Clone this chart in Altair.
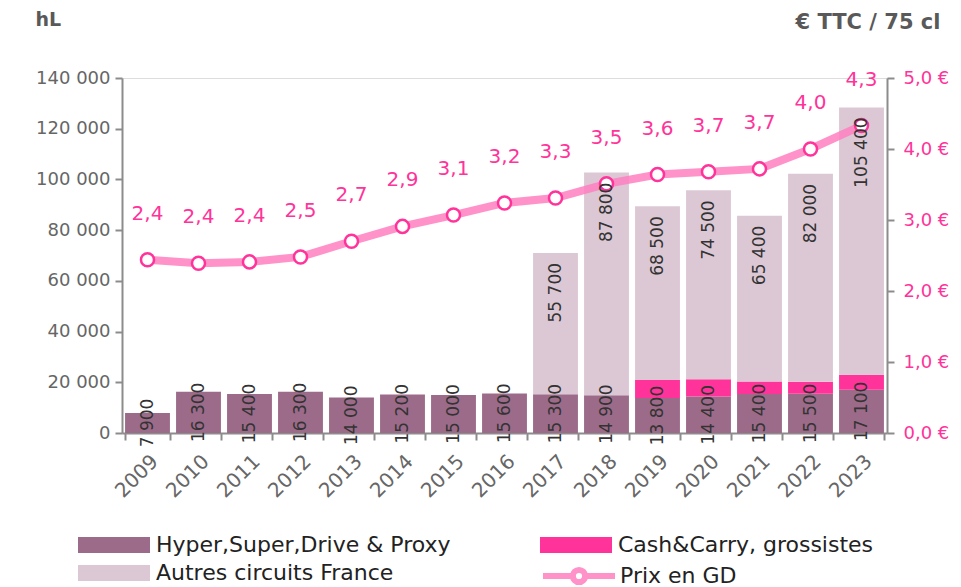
import altair as alt
import pandas as pd

years = [str(y) for y in range(2009, 2024)]
hyper = [7900, 16300, 15400, 16300, 14000, 15200, 15000, 15600, 15300, 14900, 13800, 14400, 15400, 15500, 17100]
cash = [0, 0, 0, 0, 0, 0, 0, 0, 0, 0, 7100, 6800, 4900, 4700, 5900]
autres = [0, 0, 0, 0, 0, 0, 0, 0, 55700, 87800, 68500, 74500, 65400, 82000, 105400]
price = [2.44, 2.39, 2.41, 2.48, 2.70, 2.91, 3.07, 3.24, 3.31, 3.51, 3.64, 3.68, 3.72, 4.00, 4.33]

series_names = ["Hyper,Super,Drive & Proxy", "Cash&Carry, grossistes", "Autres circuits France"]
series_colors = ["#9d6b8a", "#ff3399", "#dcc8d4"]
line_name = "Prix en GD"
FONT = "DejaVu Sans"


def fr_int(n):
    return f"{n:,}".replace(",", " ")


def fr_dec(v):
    return f"{v:.1f}".replace(".", ",")


rows = []
for i, yr in enumerate(years):
    for k, (name, vals) in enumerate(zip(series_names[:2], [hyper, cash])):
        rows.append({"year": yr, "series": name, "value": vals[i], "idx": k})
long_df = pd.DataFrame(rows)

wide = pd.DataFrame({
    "year": years,
    "hyper": hyper,
    "cash": cash,
    "autres": autres,
    "price": price,
})
wide["hmid"] = wide["hyper"] / 2
wide["base"] = wide["hyper"] + wide["cash"]
wide["total"] = wide["base"] + wide["autres"]
wide["hlabel"] = [fr_int(v) for v in hyper]
wide["alabel"] = [fr_int(v) for v in autres]
wide["plabel"] = [fr_dec(v) for v in price]
wide["aname"] = series_names[2]
wide["lg"] = line_name

x_enc = alt.X(
    "year:N",
    sort=years,
    scale=alt.Scale(paddingInner=0.12, paddingOuter=0.06),
    axis=alt.Axis(
        title=None,
        labelAngle=-45,
        labelFontSize=20,
        labelColor="#666666",
        labelPadding=11,
        tickBand="extent",
        tickSize=7,
        tickWidth=2,
        tickColor="#8c8c8c",
        domainColor="#8c8c8c",
        domainWidth=2,
        grid=False,
    ),
)

left_axis = alt.Axis(
    title="hL",
    titleAngle=0,
    titleX=-87,
    titleY=-53,
    titleAlign="left",
    titleBaseline="alphabetic",
    titleFontSize=19,
    titleFontWeight="bold",
    titleColor="#595959",
    values=[0, 20000, 40000, 60000, 80000, 100000, 120000, 140000],
    labelExpr="replace(format(datum.value, ','), regexp(',', 'g'), ' ')",
    labelFontSize=18,
    labelColor="#666666",
    labelPadding=5,
    tickSize=7,
    tickWidth=2,
    tickColor="#8c8c8c",
    domainColor="#8c8c8c",
    domainWidth=2,
    grid=False,
    orient="left",
)
left_scale = alt.Scale(domain=[0, 140000], nice=False)

right_axis = alt.Axis(
    title="€ TTC / 75 cl",
    titleAngle=0,
    titleX=53,
    titleY=-50,
    titleAlign="right",
    titleBaseline="alphabetic",
    titleFontSize=21,
    titleFontWeight="bold",
    titleColor="#595959",
    values=[0, 1, 2, 3, 4, 5],
    labelExpr="replace(format(datum.value, '.1f'), '.', ',') + ' €'",
    labelFontSize=18,
    labelColor="#ff3399",
    labelPadding=9,
    tickSize=7,
    tickWidth=2,
    tickColor="#8c8c8c",
    domainColor="#8c8c8c",
    domainWidth=2,
    grid=False,
    orient="right",
)
right_scale = alt.Scale(domain=[0, 5], nice=False)

RECT = "M-1,-0.22H1V0.22H-1Z"


def legend_props(x, y, **kw):
    return alt.Legend(
        title=None,
        orient="none",
        legendX=x,
        legendY=y,
        labelFontSize=22,
        labelColor="#222222",
        labelLimit=500,
        symbolSize=5184,
        **kw,
    )


bars_main = alt.Chart(long_df).mark_bar().encode(
    x=x_enc,
    y=alt.Y("value:Q", stack="zero", scale=left_scale, axis=left_axis),
    fill=alt.Fill(
        "series:N",
        scale=alt.Scale(domain=series_names[:2], range=series_colors[:2]),
        legend=legend_props(
            -44, 431,
            columns=2,
            direction="horizontal",
            columnPadding=89,
            symbolType=RECT,
            symbolStrokeWidth=0,
            labelOffset=6,
        ),
    ),
    order=alt.Order("idx:Q"),
)

bars_autres = alt.Chart(wide).mark_bar().encode(
    x=x_enc,
    y=alt.Y("base:Q", scale=left_scale, axis=left_axis),
    y2="total:Q",
    fill=alt.Fill(
        "aname:N",
        scale=alt.Scale(domain=series_names[2:], range=series_colors[2:]),
        legend=legend_props(
            -44, 459,
            symbolType=RECT,
            symbolStrokeWidth=0,
            labelOffset=6,
        ),
    ),
)

hyper_text = alt.Chart(wide).mark_text(
    angle=270, align="center", baseline="middle", fontSize=17, color="#333333", font=FONT
).encode(
    x=x_enc,
    y=alt.Y("hmid:Q", scale=left_scale, axis=left_axis),
    text="hlabel:N",
)

autres_text = alt.Chart(wide).transform_filter("datum.autres > 0").mark_text(
    angle=270, align="right", baseline="middle", dx=-10, fontSize=17, color="#333333", font=FONT
).encode(
    x=x_enc,
    y=alt.Y("total:Q", scale=left_scale, axis=None),
    text="alabel:N",
)

line = alt.Chart(wide).mark_line(strokeWidth=8, opacity=0.85).encode(
    x=x_enc,
    y=alt.Y("price:Q", scale=right_scale, axis=right_axis),
    stroke=alt.Stroke(
        "lg:N",
        scale=alt.Scale(domain=[line_name], range=["#ff7fbf"]),
        legend=legend_props(
            418, 459,
            symbolType="M-1,0H-0.17M0.17,0H1M-0.17,0A0.17,0.17 0 1,0 0.17,0A0.17,0.17 0 1,0 -0.17,0",
            symbolStrokeWidth=6,
            symbolFillColor="white",
            labelOffset=2,
        ),
    ),
)

points = alt.Chart(wide).mark_point(
    filled=True, fill="white", stroke="#ff3399", strokeWidth=2.5, size=170, opacity=1
).encode(
    x=x_enc,
    y=alt.Y("price:Q", scale=right_scale, axis=right_axis),
)

price_text = alt.Chart(wide).mark_text(
    dy=-46, fontSize=20, color="#ff3399", font=FONT
).encode(
    x=x_enc,
    y=alt.Y("price:Q", scale=right_scale, axis=right_axis),
    text="plabel:N",
)

left_group = alt.layer(bars_main, bars_autres, hyper_text).resolve_scale(fill="independent")
right_group = alt.layer(line, points, price_text)

chart = alt.layer(left_group, right_group, autres_text).resolve_scale(
    y="independent"
).properties(
    width=765,
    height=355,
    autosize=alt.AutoSizeParams(type="none"),
    padding={"left": 114, "top": 70, "right": 66, "bottom": 170},
).configure_view(
    stroke=None
).configure(
    font=FONT
)

chart.save("out.html", embed_options={"renderer": "svg", "actions": False})
